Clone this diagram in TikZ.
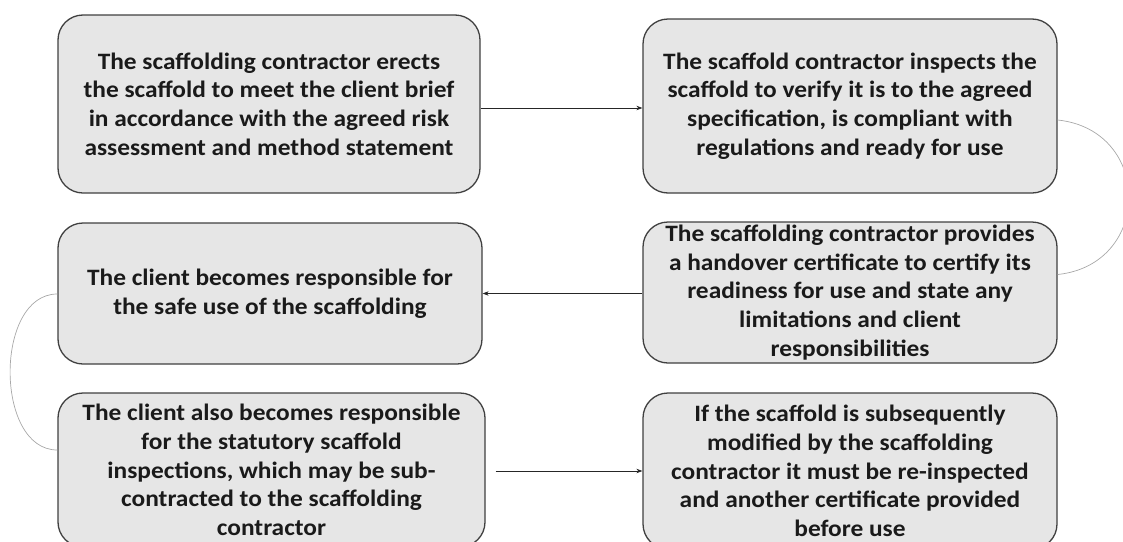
\documentclass[tikz,border=0pt]{standalone}
\usepackage{fontspec}
\setmainfont[FakeStretch=1.08]{Carlito}
\usetikzlibrary{arrows.meta,calc}
\definecolor{boxfill}{HTML}{E6E6E6}
\definecolor{boxline}{HTML}{404040}
\definecolor{curvegray}{HTML}{A8A8A8}
\definecolor{txt}{HTML}{1A1A1A}
\tikzset{
  stepbox/.style={draw=boxline, line width=1.3pt, fill=boxfill, rounded corners=25pt,
    inner sep=0pt, align=center, text=txt,
    font=\fontsize{23.5}{28.6}\selectfont\bfseries},
  arr/.style={-{Stealth[length=6pt,width=4.5pt]}, line width=0.7pt, draw=black!85},
  link/.style={draw=curvegray, line width=0.7pt}
}
\begin{document}
\begin{tikzpicture}[x=1pt,y=-1pt]
\useasboundingbox (0,0) rectangle (1123,541);
\clip (0,0) rectangle (1123,541);
\node[stepbox, minimum width=422pt, minimum height=178pt] (b1) at (269,104)
  {The scaffolding contractor erects\\the scaffold to meet the client brief\\in accordance with the agreed risk\\assessment and method statement};
\node[stepbox, minimum width=414pt, minimum height=174pt] (b2) at (850,106)
  {The scaffold contractor inspects the\\scaffold to verify it is to the agreed\\specification, is compliant with\\regulations and ready for use};
\node[stepbox, minimum width=424pt, minimum height=141pt] (b3) at (270,293.5)
  {The client becomes responsible for\\the safe use of the scaffolding};
\node[stepbox, minimum width=414pt, minimum height=141pt] (b4) at (850,292.5)
  {The scaffolding contractor provides\\a handover certificate to certify its\\readiness for use and state any\\limitations and client\\responsibilities};
\node[stepbox, minimum width=427pt, minimum height=154pt] (b5) at (271.5,470)
  {The client also becomes responsible\\for the statutory scaffold\\inspections, which may be sub-\\contracted to the scaffolding\\contractor};
\node[stepbox, minimum width=414pt, minimum height=156pt] (b6) at (850,471)
  {If the scaffold is subsequently\\modified by the scaffolding\\contractor it must be re-inspected\\and another certificate provided\\before use};
\draw[arr] ($(b1.east)+(0,4)$) -- ($(b1.east -| b2.west)+(0,4)$);
\draw[arr] ($(b4.west)+(0,1)$) -- ($(b4.west -| b3.east)+(0,1)$);
\draw[arr] ($(b5.east)+(10,1)$) -- ($(b5.east -| b6.west)+(0,1)$);
\coordinate (r1) at ($(b2.east)+(0,14)$);
\coordinate (r2) at ($(b4.east)+(0,-18)$);
\draw[link] (r1) .. controls ($(r1)+(95,10)$) and ($(r2)+(95,-10)$) .. (r2);
\coordinate (l1) at ($(b3.west)+(0,0.5)$);
\coordinate (l2) at ($(b5.west)+(0,-20)$);
\draw[link] (l1) .. controls ($(l1)+(-63,0)$) and ($(l2)+(-63,0)$) .. (l2);
\end{tikzpicture}
\end{document}
